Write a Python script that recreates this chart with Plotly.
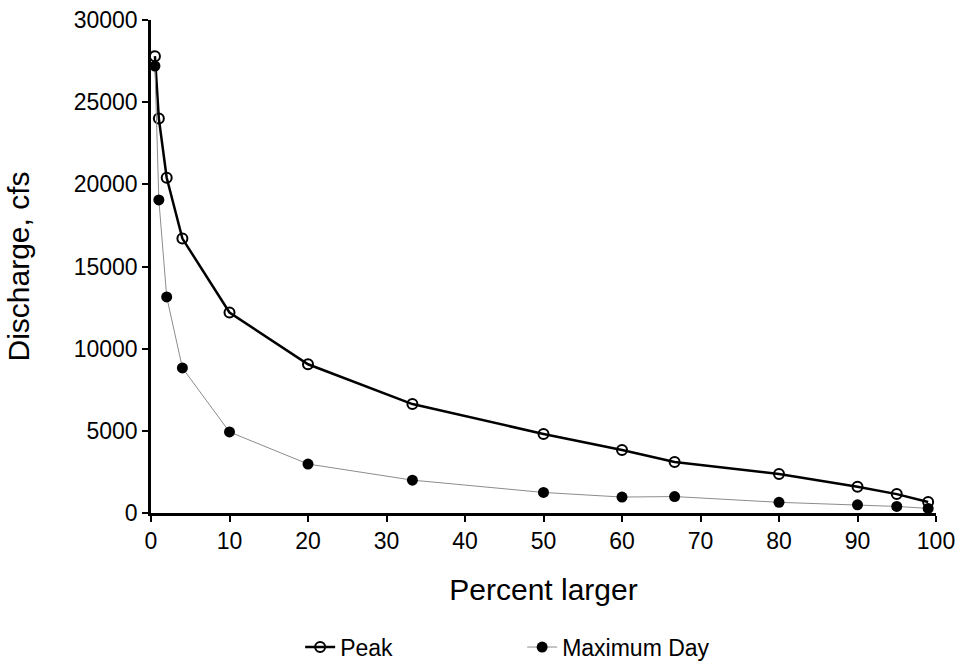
import plotly.graph_objects as go

percent = [0.5, 1, 2, 4, 10, 20, 33.3, 50, 60, 66.7, 80, 90, 95, 99]
peak = [27800, 24000, 20400, 16700, 12200, 9050, 6630, 4810, 3830, 3100, 2370, 1600, 1150, 670]
max_day = [27200, 19050, 13150, 8830, 4930, 2980, 2000, 1250, 970, 1000, 650, 500, 400, 280]

x_ticks = [0, 10, 20, 30, 40, 50, 60, 70, 80, 90, 100]
y_ticks = [0, 5000, 10000, 15000, 20000, 25000, 30000]

FONT = "Liberation Sans, Arial, sans-serif"

fig = go.Figure()
fig.add_trace(go.Scatter(
    x=percent, y=peak, name="Peak", mode="lines+markers",
    line=dict(color="black", width=2.5),
    marker=dict(symbol="circle-open", size=10, color="black", line=dict(width=2, color="black")),
))
fig.add_trace(go.Scatter(
    x=percent, y=max_day, name="Maximum Day", mode="lines+markers",
    line=dict(color="#8c8c8c", width=1),
    marker=dict(symbol="circle", size=11, color="black"),
))

fig.update_layout(
    width=962, height=664,
    margin=dict(l=151, r=26, t=20, b=151, autoexpand=False),
    plot_bgcolor="white", paper_bgcolor="white",
    font=dict(family=FONT, color="black", size=23),
    showlegend=True,
    legend=dict(orientation="h", x=0.19, xanchor="left", y=-0.272, yanchor="middle",
                font=dict(size=23, family=FONT), entrywidth=177, entrywidthmode="pixels",
                bgcolor="rgba(0,0,0,0)"),
)
fig.update_xaxes(
    range=[0, 100], tickvals=x_ticks, ticktext=[str(v) for v in x_ticks],
    showgrid=False, zeroline=False, showline=True, linecolor="black", linewidth=2.5,
    ticks="outside", ticklen=6, tickwidth=2, tickcolor="black", automargin=False,
    tickfont=dict(size=23, family=FONT),
    title=dict(text="Percent larger", font=dict(size=30, family=FONT), standoff=26),
)
fig.update_yaxes(
    range=[0, 30000], tickvals=y_ticks, ticktext=[str(v) for v in y_ticks],
    showgrid=False, zeroline=False, showline=True, linecolor="black", linewidth=2.5,
    ticks="outside", ticklen=6, tickwidth=2, tickcolor="black", automargin=False,
    tickfont=dict(size=23, family=FONT),
    title=dict(text="Discharge, cfs", font=dict(size=30, family=FONT), standoff=36),
)

fig.write_html("out.html")
